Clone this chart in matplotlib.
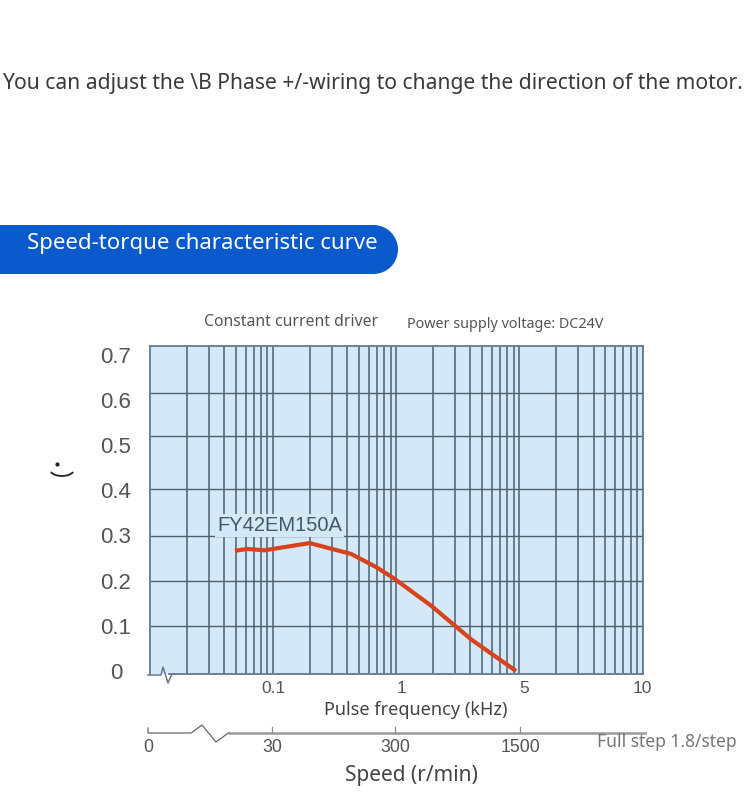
import matplotlib
matplotlib.use("Agg")
import matplotlib.pyplot as plt
from matplotlib.patches import Rectangle, Circle, Arc
from matplotlib.ticker import LogLocator, NullFormatter
from matplotlib.transforms import ScaledTranslation

# data
freq_khz = [0.049, 0.0617, 0.085, 0.198, 0.43, 0.686, 0.945, 1.93, 4.1, 9.4]
torque = [0.266, 0.27, 0.267, 0.283, 0.259, 0.23, 0.206, 0.144, 0.069, 0.0]
torque_ticks = [0, 0.1, 0.2, 0.3, 0.4, 0.5, 0.6, 0.7]
torque_labels = ["0", "0.1", "0.2", "0.3", "0.4", "0.5", "0.6", "0.7"]
# the horizontal rules do not sit on the labels in the original
torque_rules = [0.0996, 0.199, 0.298, 0.403, 0.519, 0.616]
freq_ticks = [0.1, 1, 10, 100]
freq_labels = ["0.1", "1", "5", "10"]
speed_ticks_px = [148, 272, 395, 520]
speed_labels = ["0", "30", "300", "1500"]

W, H = 750, 799
DPI = 100
SANS = "Noto Sans"
ARIAL = "Liberation Sans"
GRID = "#5f7486"
PANEL = "#d5e8f7"

fig = plt.figure(figsize=(W / DPI, H / DPI), dpi=DPI, facecolor="white")

# overlay in pixel coordinates for the page furniture
page = fig.add_axes([0, 0, 1, 1], zorder=3)
page.set_xlim(0, W)
page.set_ylim(H, 0)
page.axis("off")
page.patch.set_alpha(0)

ax = fig.add_axes([150 / W, 1 - 674 / H, (642.5 - 150) / W, (674 - 346) / H], zorder=2)
ax.set_facecolor(PANEL)
ax.set_xscale("log")
ax.set_xlim(0.01, 100)
ax.set_ylim(-0.0066, 0.719)

ax.xaxis.set_major_locator(plt.FixedLocator(freq_ticks))
ax.xaxis.set_minor_locator(LogLocator(base=10, subs=range(2, 10)))
ax.xaxis.set_minor_formatter(NullFormatter())
ax.set_xticklabels(freq_labels, fontsize=12.5, color="#555555", family=ARIAL)
ax.set_yticks(torque_ticks)
ax.set_yticklabels(torque_labels, fontsize=16, color="#555555", family=ARIAL, ha="center")
ax.tick_params(axis="both", which="both", length=0)
ax.tick_params(axis="y", pad=24.5)
ax.tick_params(axis="x", pad=5)
ax.grid(True, axis="x", which="both", color=GRID, lw=1.3)
ax.hlines(torque_rules, 0.01, 100, color="#4e6070", lw=1.0)
ax.set_axisbelow(True)
for side in ax.spines:
    ax.spines[side].set_color("#66788a")
    ax.spines[side].set_linewidth(1.3)
# the bottom line only starts after the break mark
ax.spines["bottom"].set_bounds(0.0143, 100)

# "1" and "5" sit a little right of their rules
for label, shift in zip(ax.get_xticklabels(), [0, 5, 5, 0]):
    label.set_transform(label.get_transform() + ScaledTranslation(shift / DPI, 0, fig.dpi_scale_trans))

ax.plot(freq_khz, torque, color="#d8431c", lw=3.0, solid_capstyle="butt", zorder=4)
# the label has a plain patch behind it that hides the vertical rules
ax.text(0.0352, 0.3, "FY42EM150A", fontsize=14.5, color="#46586a", family=ARIAL, va="bottom",
        bbox=dict(fc=PANEL, ec="none", pad=1.5), zorder=3)

page.text(2, 83, "You can adjust the \\B Phase +/-wiring to change the direction of the motor.",
          fontsize=15.2, color="#3a3a3a", family=SANS, va="center")

page.add_patch(Rectangle((-5, 225), 379, 49, fc="#0a59cd", ec="none"))
page.add_patch(Circle((373.5, 249.5), 24.5, fc="#0a59cd", ec="none"))
page.text(27, 244, "Speed-torque characteristic curve", fontsize=16.0, color="white",
          family=SANS, va="center")

page.text(204, 322, "Constant current driver", fontsize=11.35, color="#555555", family=SANS, va="center")
page.text(407, 324, "Power supply voltage: DC24V", fontsize=10.35, color="#555555", family=SANS, va="center")
page.text(416, 710, "Pulse frequency (kHz)", fontsize=13, color="#444444", family=SANS,
          ha="center", va="center")
page.text(411, 775, "Speed (r/min)", fontsize=15, color="#444444", family=SANS, ha="center", va="center")
page.text(597, 742, "Full step 1.8/step", fontsize=12.6, color="#777777", family=SANS, va="center")

# odd little mark where the y label got lost
page.plot([57], [464], "o", ms=2, color="#222222")
page.add_patch(Arc((62, 468), 26, 16, theta1=20, theta2=160, color="#222222", lw=1.3))

# axis break on the frequency axis
page.plot([148, 161, 163, 168, 172, 176], [675, 675, 667, 683, 674, 674], color="#66788a", lw=1.1)

# speed axis
page.plot([148, 148, 191, 202, 216, 229], [728, 733, 733, 725, 742, 732.5], color="#666666", lw=0.9)
page.plot([229, 645], [732.7, 732.7], color="#9a9a9a", lw=1.8)
for x, name in zip(speed_ticks_px, speed_labels):
    if x > 148:
        page.plot([x, x], [727, 733], color="#888888", lw=0.9)
    page.text(x, 748, name, fontsize=12.8, color="#555555", family=ARIAL, ha="center", va="center")

fig.savefig("out.png", dpi=DPI, facecolor="white")
